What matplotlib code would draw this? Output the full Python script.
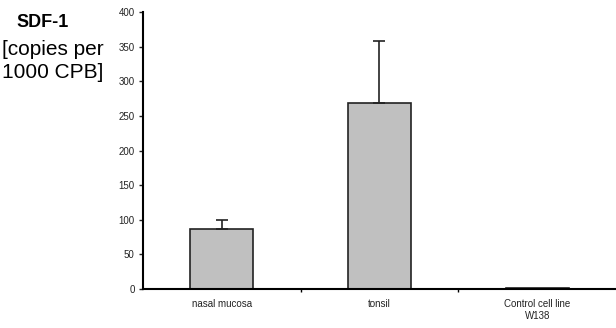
import matplotlib.pyplot as plt
import numpy as np

plt.rcParams['font.family'] = ['Liberation Sans', 'DejaVu Sans']

# SDF-1 expression levels
categories = ['nasal mucosa', 'tonsil', 'Control cell line\nW138']
values = [86, 269, 1]
errors_up = [13, 90, 0]

fig = plt.figure(figsize=(6.16, 3.28), dpi=100)
ax = fig.add_axes([0.232, 0.119, 0.768, 0.844])

x = np.arange(len(categories))
ax.bar(x, values, width=0.4, color='#c0c0c0', edgecolor='#222222', linewidth=1.2)
ax.errorbar(x[:2], values[:2], yerr=[np.zeros(2), errors_up[:2]], fmt='none',
            ecolor='#222222', elinewidth=1.2, capsize=4, capthick=1.2)

ax.set_xlim(-0.5, 2.5)
ax.set_ylim(0, 400)
ax.set_yticks(np.arange(0, 401, 50))
ax.tick_params(axis='y', labelsize=7, colors='#222222', length=3, width=1, pad=3)

# category labels sit between the boundary ticks
ax.set_xticks([0.5, 1.5])
ax.set_xticklabels([])
ax.tick_params(axis='x', length=2, width=1, direction='out')
for xi, lab in zip(x, categories):
    ax.text(xi, -15, lab, ha='center', va='top', fontsize=7, color='#222222',
            linespacing=1.15)

for s in ['top', 'right']:
    ax.spines[s].set_visible(False)
ax.spines['left'].set_linewidth(1.5)
ax.spines['bottom'].set_linewidth(1.5)

fig.text(0.027, 0.93, 'SDF-1', fontsize=13, fontweight='bold', va='center')
fig.text(0.004, 0.848, '[copies per', fontsize=15, va='center')
fig.text(0.004, 0.78, '1000 CPB]', fontsize=15, va='center')

fig.savefig('out.png', dpi=100)
